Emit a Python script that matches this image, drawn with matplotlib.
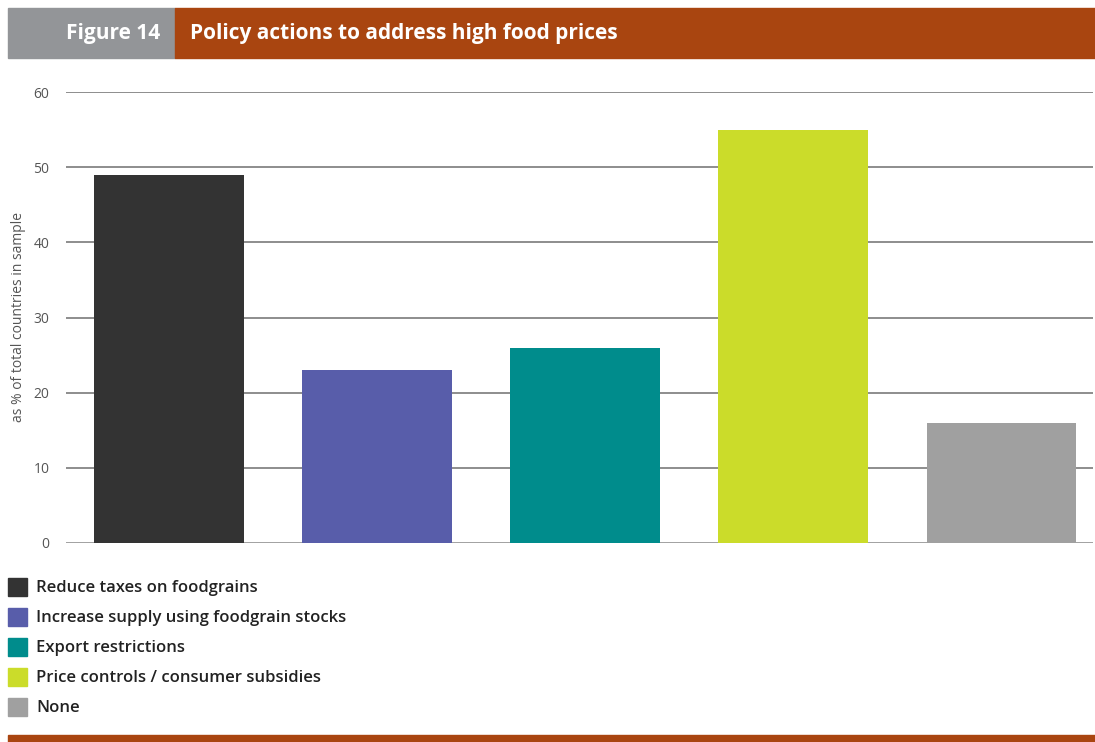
import matplotlib.pyplot as plt
from matplotlib.patches import Rectangle

categories = ['Reduce taxes on foodgrains',
              'Increase supply using foodgrain stocks',
              'Export restrictions',
              'Price controls / consumer subsidies',
              'None']
values = [49, 23, 26, 55, 16]
colors = ['#333333', '#585DAA', '#008C8C', '#CBDC2A', '#A0A0A0']
yticks = [0, 10, 20, 30, 40, 50, 60]

brown = '#A94510'
grey = '#939598'

fig = plt.figure(figsize=(10.95, 7.42), dpi=100)
W, H = 1095, 742

def fx(px):
    return px / W

def fy(py):
    return 1 - py / H

# header boxes
fig.patches.append(Rectangle((fx(8), fy(58)), fx(175) - fx(8), fy(8) - fy(58),
                             transform=fig.transFigure, color=grey))
fig.patches.append(Rectangle((fx(175), fy(58)), 1 - fx(175), fy(8) - fy(58),
                             transform=fig.transFigure, color=brown))
fig.text(fx(160), fy(33), 'Figure 14', color='white', fontsize=15, fontweight='bold',
         ha='right', va='center', family='Open Sans')
fig.text(fx(190), fy(33), 'Policy actions to address high food prices', color='white',
         fontsize=15, fontweight='bold', ha='left', va='center', family='Open Sans')

# bottom rule
fig.patches.append(Rectangle((fx(8), 0), 1 - fx(8), fy(735),
                             transform=fig.transFigure, color=brown))

ax = fig.add_axes([fx(66), fy(543), fx(1093) - fx(66), fy(92) - fy(543)])
x = range(len(values))
ax.bar(x, values, width=0.72, color=colors, zorder=3)
ax.set_xlim(-0.495, 4.44)
ax.set_ylim(0, 60)
ax.set_yticks(yticks)
for t in yticks:
    ax.axhline(t, color='#858585', lw=1.3 if t else 1.8, zorder=1)
ax.set_xticks([])
for s in ax.spines.values():
    s.set_visible(False)
ax.tick_params(axis='y', length=0, pad=12, labelsize=10, labelcolor='#555555')
for lab in ax.get_yticklabels():
    lab.set_family('Open Sans')
ax.set_ylabel('as % of total countries in sample', fontsize=10, color='#555555',
              family='Open Sans', labelpad=5)

# legend
for i, (c, lab) in enumerate(zip(colors, categories)):
    yc = 587 + 30 * i
    fig.patches.append(Rectangle((fx(8), fy(yc + 9)), fx(27) - fx(8), fy(yc - 9) - fy(yc + 9),
                                 transform=fig.transFigure, color=c))
    fig.text(fx(36), fy(yc + 1), lab, fontsize=12, fontweight='semibold', color='#222222',
             ha='left', va='center', family='Open Sans')

fig.savefig('out.png', dpi=100)
